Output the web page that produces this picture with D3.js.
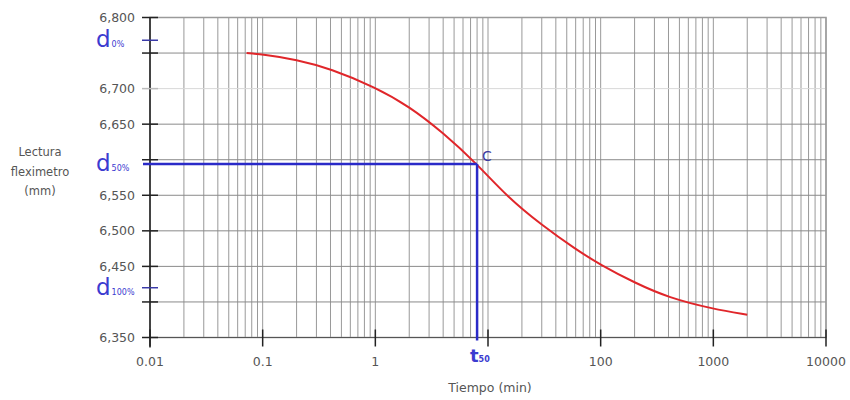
<!DOCTYPE html>
<html><head><meta charset="utf-8">
<script src="https://cdn.jsdelivr.net/npm/d3@7/dist/d3.min.js"></script>
<style>body{margin:0;background:#fff}svg{display:block}</style>
</head><body><svg id="c" width="850" height="400"></svg>
<script>
const timeValues = [0.072, 0.1, 0.2, 0.4, 1, 2, 4, 8, 15, 30, 60, 100, 200, 400, 1000, 2000];
const readingValues = [6.750, 6.748, 6.741, 6.728, 6.702, 6.675, 6.638, 6.594, 6.547, 6.508, 6.474, 6.452, 6.427, 6.406, 6.390, 6.382];
const xTickLabels = ["0.01", "0.1", "1", "", "100", "1000", "10000"];
const xTickValues = [0.01, 0.1, 1, 10, 100, 1000, 10000];
const yTickValues = [6.80, 6.75, 6.70, 6.65, 6.60, 6.55, 6.50, 6.45, 6.40, 6.35];
const yTickLabels = ["6,800", "", "6,700", "6,650", "", "6,550", "6,500", "6,450", "", "6,350"];
const dLevels = [6.768, 6.594, 6.420];
const dLabels = ["0%", "50%", "100%"];
const t50 = 8;

const svg = d3.select("#c");
const L = 150, R = 826, T = 17.5, B = 337.5;
const x = d3.scaleLog().domain([0.01, 10000]).range([L, R]);
const y = d3.scaleLinear().domain([6.35, 6.80]).range([B, T]);
const font = "DejaVu Sans, sans-serif";

// vertical grid
const minors = [];
for (let e = -2; e < 4; e++) for (let k = 1; k <= 9; k++) minors.push(k * Math.pow(10, e));
minors.push(10000);
svg.append("g").selectAll("line").data(minors).join("line")
  .attr("x1", d => x(d)).attr("x2", d => x(d)).attr("y1", T).attr("y2", B)
  .attr("stroke", "#999").attr("stroke-width", 1);
// horizontal grid
svg.append("g").selectAll("line").data(yTickValues).join("line")
  .attr("x1", L).attr("x2", R).attr("y1", d => y(d)).attr("y2", d => y(d))
  .attr("stroke", d => Math.abs(d - 6.70) < 1e-6 ? "#d8d8d8" : "#8a8a8a").attr("stroke-width", 1);
// frame
svg.append("rect").attr("x", L).attr("y", T).attr("width", R - L).attr("height", B - T)
  .attr("fill", "none").attr("stroke", "#9a9a9a").attr("stroke-width", 1.5);
svg.append("line").attr("x1", L).attr("x2", L).attr("y1", T).attr("y2", B + 10).attr("stroke", "#222").attr("stroke-width", 1.5);
svg.append("line").attr("x1", L).attr("x2", R).attr("y1", B).attr("y2", B).attr("stroke", "#555").attr("stroke-width", 1.2);

// y ticks
svg.append("g").selectAll("line").data(yTickValues).join("line")
  .attr("x1", L - 8).attr("x2", L + 8).attr("y1", d => y(d)).attr("y2", d => y(d))
  .attr("stroke", d => Math.abs(d - 6.70) < 1e-6 ? "#bbb" : "#222").attr("stroke-width", 1.5);
svg.append("g").selectAll("text").data(yTickValues).join("text")
  .attr("x", 135).attr("y", d => y(d)).attr("dy", "0.35em").attr("text-anchor", "end")
  .attr("font-family", font).attr("font-size", 12.5).attr("fill", "#555")
  .text((d, i) => yTickLabels[i]);
// x ticks
svg.append("g").selectAll("line").data(xTickValues).join("line")
  .attr("x1", d => x(d)).attr("x2", d => x(d)).attr("y1", B - 8).attr("y2", B + 9)
  .attr("stroke", "#222").attr("stroke-width", 1.5);
svg.append("g").selectAll("text").data(xTickValues).join("text")
  .attr("x", d => x(d)).attr("y", 362).attr("dy", "0.35em").attr("text-anchor", "middle")
  .attr("font-family", font).attr("font-size", 12.5).attr("fill", "#555")
  .text((d, i) => xTickLabels[i]);

// axis titles
svg.append("text").attr("x", 490).attr("y", 388).attr("dy", "0.35em").attr("text-anchor", "middle")
  .attr("font-family", font).attr("font-size", 12.5).attr("fill", "#555").text("Tiempo (min)");
const yt = svg.append("text").attr("text-anchor", "middle")
  .attr("font-family", font).attr("font-size", 11.5).attr("fill", "#555");
["Lectura", "fleximetro", "(mm)"].forEach((s, i) => yt.append("tspan").attr("x", 40).attr("y", 156 + i * 19.5).text(s));

// curve
const pts = timeValues.map((t, i) => [t, readingValues[i]]);
svg.append("path").datum(pts)
  .attr("d", d3.line().x(d => x(d[0])).y(d => y(d[1])).curve(d3.curveBasis))
  .attr("fill", "none").attr("stroke", "#e0262a").attr("stroke-width", 2);

// d50 / t50 construction
const blue = "#2a2ac8";
svg.append("line").attr("x1", L - 7).attr("x2", x(t50)).attr("y1", y(dLevels[1])).attr("y2", y(dLevels[1]))
  .attr("stroke", blue).attr("stroke-width", 2.5);
svg.append("line").attr("x1", x(t50)).attr("x2", x(t50)).attr("y1", y(dLevels[1])).attr("y2", B + 3)
  .attr("stroke", blue).attr("stroke-width", 2.5);
[dLevels[0], dLevels[2]].forEach(v => svg.append("line").attr("x1", L - 8).attr("x2", L + 8)
  .attr("y1", y(v)).attr("y2", y(v)).attr("stroke", "#3a3aa8").attr("stroke-width", 1.5));

// d labels
dLevels.forEach((v, i) => {
  const t = svg.append("text").attr("x", 96).attr("y", y(v) + 7)
    .attr("font-family", font).attr("fill", "#3b3bd0");
  t.append("tspan").attr("font-size", 23).text("d");
  t.append("tspan").attr("font-size", 8).attr("dx", 1).text(dLabels[i]);
});
// t50 label
const tl = svg.append("text").attr("x", 470).attr("y", 362)
  .attr("font-family", font).attr("fill", "#3b3bd0").attr("font-weight", "bold");
tl.append("tspan").attr("font-size", 18).text("t");
tl.append("tspan").attr("font-size", 8).text("50");
// C label
svg.append("text").attr("x", 482).attr("y", 161).attr("font-family", font)
  .attr("font-size", 14).attr("fill", "#3a3aa0").text("C");
</script></body></html>
